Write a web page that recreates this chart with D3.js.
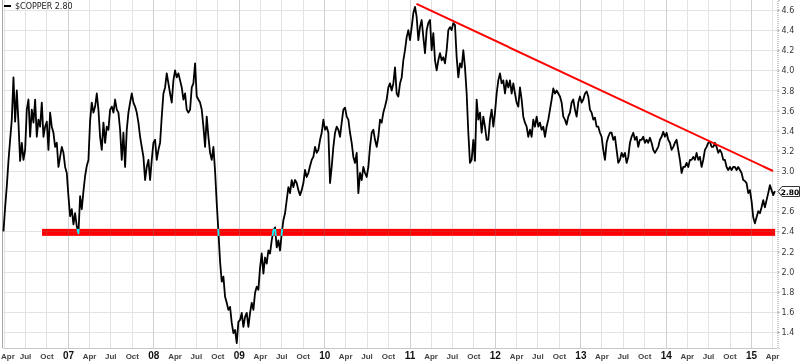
<!DOCTYPE html>
<html><head><meta charset="utf-8">
<script src="https://cdn.jsdelivr.net/npm/d3@7"></script>
<style>html,body{margin:0;padding:0;background:#fff;overflow:hidden;} svg{display:block;}</style>
</head><body><svg id="c" width="800" height="363"></svg>
<script>
// ---------- data ----------
const symbol = "$COPPER";
const lastPrice = 2.80;
const xDomain = ["2006-03-29", "2015-04-22"];
const yDomain = [1.241, 4.699];
const yTicks = [1.4, 1.6, 1.8, 2.0, 2.2, 2.4, 2.6, 2.8, 3.0, 3.2, 3.4, 3.6, 3.8, 4.0, 4.2, 4.4, 4.6];
// weekly samples, evenly spaced from sampleStart to sampleEnd
const sampleStart = "2006-03-31";
const sampleEnd = "2015-04-13";
const prices = [
2.40,2.64,2.85,3.10,3.31,3.51,3.93,3.49,3.80,3.48,3.10,3.28,3.11,3.21,3.61,3.71,3.34,3.61,3.48,3.71,
3.34,3.51,3.44,3.68,3.34,3.44,3.49,3.21,3.58,3.44,3.38,3.24,3.28,3.04,3.14,3.24,3.18,3.04,2.98,2.75,
2.55,2.62,2.47,2.58,2.45,2.38,2.75,2.62,2.80,2.95,3.05,3.11,3.50,3.68,3.58,3.64,3.77,3.61,3.34,3.21,
3.48,3.28,3.44,3.41,3.61,3.64,3.58,3.71,3.61,3.58,3.41,3.11,3.38,3.04,3.41,3.58,3.68,3.77,3.68,3.64,
3.58,3.48,3.34,3.24,3.14,2.91,3.04,3.11,2.91,3.11,3.28,3.31,3.11,3.21,3.28,3.54,3.77,3.83,3.97,3.87,
3.77,3.68,3.90,4.00,3.93,3.97,3.90,3.83,3.71,3.77,3.61,3.58,3.61,3.83,3.87,4.07,3.74,3.71,3.68,3.61,
3.44,3.24,3.54,3.34,3.18,3.11,3.24,3.00,2.68,2.40,2.10,1.90,1.95,1.75,1.69,1.62,1.65,1.49,1.39,1.42,
1.29,1.50,1.52,1.59,1.45,1.55,1.59,1.45,1.59,1.69,1.62,1.79,1.85,1.82,2.04,2.18,1.98,2.14,2.08,2.21,
2.18,2.31,2.41,2.44,2.24,2.31,2.21,2.38,2.51,2.58,2.71,2.84,2.78,2.91,2.84,2.91,2.88,2.81,2.76,2.81,
2.88,3.01,2.94,2.98,3.05,3.11,3.14,3.24,3.18,3.21,3.31,3.38,3.51,3.41,3.44,3.38,2.88,3.04,3.24,3.38,
3.44,3.41,3.34,3.48,3.61,3.63,3.54,3.51,3.38,3.28,3.14,3.08,3.18,2.78,2.98,2.91,3.04,2.98,2.94,3.04,
3.24,3.38,3.41,3.31,3.24,3.34,3.51,3.48,3.58,3.64,3.71,3.83,3.87,3.80,3.87,4.03,3.77,3.74,3.87,3.93,
4.10,4.20,4.33,4.40,4.30,4.43,4.57,4.63,4.53,4.30,4.43,4.50,4.33,4.17,4.40,4.47,4.50,4.20,4.37,4.10,
4.00,4.10,4.17,4.10,4.13,4.07,4.20,4.40,4.43,4.40,4.47,4.45,4.13,3.93,4.07,4.03,4.20,4.03,3.77,3.38,
3.08,3.11,3.31,3.10,3.71,3.51,3.58,3.38,3.54,3.44,3.31,3.31,3.51,3.61,3.44,3.58,3.77,3.90,3.97,3.87,
3.90,3.77,3.90,3.83,3.90,3.77,3.87,3.77,3.68,3.64,3.83,3.71,3.54,3.48,3.44,3.34,3.41,3.34,3.51,3.44,
3.54,3.44,3.48,3.41,3.44,3.34,3.44,3.51,3.61,3.71,3.82,3.77,3.80,3.77,3.74,3.68,3.54,3.51,3.46,3.54,
3.58,3.68,3.71,3.61,3.54,3.68,3.74,3.68,3.71,3.77,3.79,3.74,3.61,3.58,3.51,3.53,3.44,3.44,3.38,3.34,
3.21,3.11,3.28,3.34,3.38,3.38,3.31,3.34,3.21,3.08,3.11,3.18,3.14,3.18,3.08,3.14,3.28,3.34,3.38,3.31,
3.34,3.24,3.31,3.31,3.34,3.28,3.31,3.28,3.33,3.28,3.21,3.18,3.21,3.24,3.31,3.34,3.39,3.34,3.38,3.31,
3.28,3.21,3.24,3.28,3.31,3.21,3.11,2.98,3.04,3.04,3.08,3.04,3.11,3.11,3.14,3.11,3.18,3.11,3.14,3.04,
3.11,3.21,3.24,3.28,3.29,3.24,3.24,3.28,3.24,3.18,3.21,3.18,3.11,3.11,3.04,3.01,3.04,3.01,3.04,3.04,
3.01,3.04,3.01,2.98,2.91,2.90,2.88,2.78,2.81,2.70,2.54,2.48,2.54,2.60,2.58,2.64,2.71,2.64,2.71,2.78,
2.86,2.81,2.76,2.80
];
// support band and falling trendline
const supportDates = ["2006-09-12", "2015-04-14"];
const supportLevel = 2.39;
const trendDates = ["2011-01-31", "2015-04-05"];
const trendPrices = [4.66, 3.00];

// ---------- drawing ----------
const parse = d3.timeParse("%Y-%m-%d");
const W = 800, H = 363;
const mLeft = 3, mRight = 777, mTop = 0, mBottom = 348;
const svg = d3.select("#c");

const x = d3.scaleTime().domain(xDomain.map(parse)).range([mLeft, mRight]);
const y = d3.scaleLinear().domain(yDomain).range([mBottom, mTop]);

const t0 = parse(sampleStart), t1 = parse(sampleEnd);
const data = prices.map((p, i) => ({
  date: new Date(+t0 + (t1 - t0) * i / (prices.length - 1)),
  price: p
}));

svg.append("rect").attr("x", 0).attr("y", 0).attr("width", W).attr("height", H).attr("fill", "#fff");

// grid
const quarters = d3.timeMonth.every(3).range(x.domain()[0], x.domain()[1]);
const grid = svg.append("g");
grid.selectAll("line.h").data(yTicks).join("line")
  .attr("x1", mLeft).attr("x2", mRight)
  .attr("y1", d => Math.round(y(d)) + 0.5).attr("y2", d => Math.round(y(d)) + 0.5)
  .attr("stroke", "#e3e3e3").attr("stroke-width", 1);
grid.selectAll("line.v").data(quarters).join("line")
  .attr("x1", d => Math.round(x(d)) + 0.5).attr("x2", d => Math.round(x(d)) + 0.5)
  .attr("y1", mTop).attr("y2", mBottom)
  .attr("stroke", d => d.getMonth() === 0 ? "#d0d0d0" : "#e3e3e3").attr("stroke-width", 1);

// borders
svg.append("line").attr("x1", mLeft - 0.5).attr("x2", mLeft - 0.5).attr("y1", mTop).attr("y2", mBottom)
  .attr("stroke", "#a8a8a8");
svg.append("line").attr("x1", mLeft).attr("x2", mRight).attr("y1", mBottom + 0.5).attr("y2", mBottom + 0.5)
  .attr("stroke", "#c8c8c8");

// y axis (right); the label at the last price is covered by the price tag
const yAxis = d3.axisRight(y).tickValues(yTicks).tickSize(2).tickPadding(2)
  .tickFormat(d => Math.abs(d - lastPrice) < 0.05 ? "" : d3.format(".1f")(d));
const ya = svg.append("g").attr("transform", `translate(${mRight + 0.5},0)`).call(yAxis);
ya.select(".domain").attr("stroke", "#9a9a9a").attr("stroke-dasharray", "1,1");
ya.selectAll(".tick line").attr("stroke", "#9a9a9a");
ya.selectAll(".tick text").attr("font-family", "DejaVu Sans").attr("font-size", 8).attr("fill", "#333");

// x axis labels
const xAxis = d3.axisBottom(x).tickValues(quarters).tickSize(0).tickPadding(0)
  .tickFormat(d => d.getMonth() === 0 ? d3.timeFormat("%y")(d) : d3.timeFormat("%b")(d));
const xa = svg.append("g").attr("transform", `translate(0,${mBottom})`).call(xAxis);
xa.select(".domain").remove();
xa.selectAll(".tick text")
  .attr("y", 11).attr("dy", 0)
  .attr("font-family", "Liberation Sans, Arial, sans-serif")
  .attr("font-weight", "bold")
  .attr("font-size", d => d.getMonth() === 0 ? 10 : 8)
  .attr("fill", d => d.getMonth() === 0 ? "#111" : "#444");
// keep the first label inside the picture
xa.selectAll(".tick").filter((d, i) => i === 0).select("text")
  .attr("text-anchor", "start").attr("x", d => 0.5 - x(d));

// price line
const line = d3.line().x(d => x(d.date)).y(d => y(d.price));
svg.append("path").datum(data).attr("d", line)
  .attr("fill", "none").attr("stroke", "#000").attr("stroke-width", 1.8).attr("stroke-linejoin", "round");

// support band (difference blend: red on white, cyan where it crosses the black line)
const s0 = parse(supportDates[0]), s1 = parse(supportDates[1]);
svg.append("rect")
  .attr("x", x(s0)).attr("width", x(s1) - x(s0))
  .attr("y", y(supportLevel) - 3.5).attr("height", 7)
  .attr("fill", "#00ffff").style("mix-blend-mode", "difference");

// trendline
svg.append("line")
  .attr("x1", x(parse(trendDates[0]))).attr("y1", y(trendPrices[0]))
  .attr("x2", x(parse(trendDates[1]))).attr("y2", y(trendPrices[1]))
  .attr("stroke", "#ff0000").attr("stroke-width", 2);

// legend
svg.append("line").attr("x1", 4).attr("x2", 11).attr("y1", 6).attr("y2", 6)
  .attr("stroke", "#000").attr("stroke-width", 2);
svg.append("text").attr("x", 15).attr("y", 9)
  .attr("font-family", "DejaVu Sans").attr("font-size", 8).attr("fill", "#222")
  .text(`${symbol} ${lastPrice.toFixed(2)}`);

// last price tag
const ty = Math.round(y(lastPrice));
svg.append("path")
  .attr("d", `M${mRight + 1},${ty + 0.5} L${mRight + 5},${ty - 4.5} L799.5,${ty - 4.5} L799.5,${ty + 5.5} L${mRight + 5},${ty + 5.5} Z`)
  .attr("fill", "#fff").attr("stroke", "#333").attr("stroke-width", 1);
svg.append("text").attr("x", 790).attr("y", ty + 3.5).attr("text-anchor", "middle")
  .attr("font-family", "DejaVu Sans").attr("font-weight", "bold").attr("font-size", 7.5).attr("fill", "#000")
  .text(lastPrice.toFixed(2));
</script>
</body></html>
